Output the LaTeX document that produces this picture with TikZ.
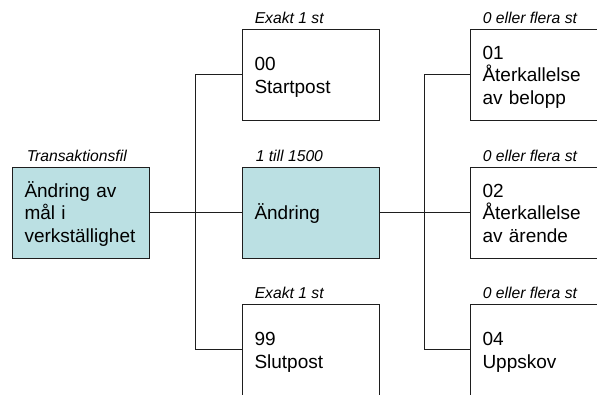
\documentclass[tikz,border=0pt]{standalone}
\usepackage{fontspec}
\setmainfont{Liberation Sans}
\usetikzlibrary{calc}
\definecolor{boxfill}{RGB}{187,224,227}
\definecolor{linecol}{RGB}{30,30,30}
\newcommand{\lnstrut}{\rule[-4.1pt]{0pt}{22.6pt}}
\begin{document}
\begin{tikzpicture}[x=1pt,y=-1pt,
  box/.style={draw=linecol, line width=0.85pt, minimum width=137pt, minimum height=91pt,
    inner xsep=12.5pt, inner ysep=0pt, text width=112pt, align=left,
    font=\fontsize{19}{22.6}\selectfont},
  hl/.style={box, fill=boxfill},
  lbl/.style={anchor=base west, inner sep=0pt, font=\fontsize{15.7}{18}\selectfont\itshape},
  conn/.style={draw=linecol, line width=0.85pt}]
\useasboundingbox (0,0) rectangle (597,394);
\clip (0,0) rectangle (597,394);
\fill[white] (0,0) rectangle (597,394);
% boxes
\node[hl]  (L) at (80.5,212.5)  {\lnstrut Ändring av\\\lnstrut mål i\\\lnstrut verkställighet};
\node[box] (A) at (310.5,74.5)  {\lnstrut 00\\\lnstrut Startpost};
\node[hl]  (B) at (310.5,212.5) {\lnstrut Ändring};
\node[box] (C) at (310.5,349.5) {\lnstrut 99\\\lnstrut Slutpost};
\node[box] (D) at (538.5,74.5)  {\lnstrut 01\\\lnstrut Återkallelse\\\lnstrut av belopp};
\node[box] (E) at (538.5,212.5) {\lnstrut 02\\\lnstrut Återkallelse\\\lnstrut av ärende};
\node[box] (F) at (538.5,349.5) {\lnstrut 04\\\lnstrut Uppskov};
% labels
\node[lbl] (lL) at ([xshift=15pt,yshift=5.5pt]L.north west) {Transaktionsfil};
\node[lbl] (lA) at ([xshift=13pt,yshift=5.5pt]A.north west) {Exakt 1 st};
\node[lbl] (lB) at ([xshift=14pt,yshift=5.5pt]B.north west) {1 till 1500};
\node[lbl] (lC) at ([xshift=13pt,yshift=5.5pt]C.north west) {Exakt 1 st};
\node[lbl] (lD) at ([xshift=13pt,yshift=5.5pt]D.north west) {0 eller flera st};
\node[lbl] (lE) at ([xshift=13pt,yshift=5.5pt]E.north west) {0 eller flera st};
\node[lbl] (lF) at ([xshift=13pt,yshift=5.5pt]F.north west) {0 eller flera st};
% junctions
\coordinate (j1) at ($(L.east)!0.5!(B.west)$);
\coordinate (j2) at ($(B.east)!0.5!(E.west)$);
% connectors
\draw[conn] (L.east) -- (B.west);
\draw[conn] (A.west) -| (j1) |- (C.west);
\draw[conn] (B.east) -- (E.west);
\draw[conn] (D.west) -| (j2) |- (F.west);
\end{tikzpicture}
\end{document}
